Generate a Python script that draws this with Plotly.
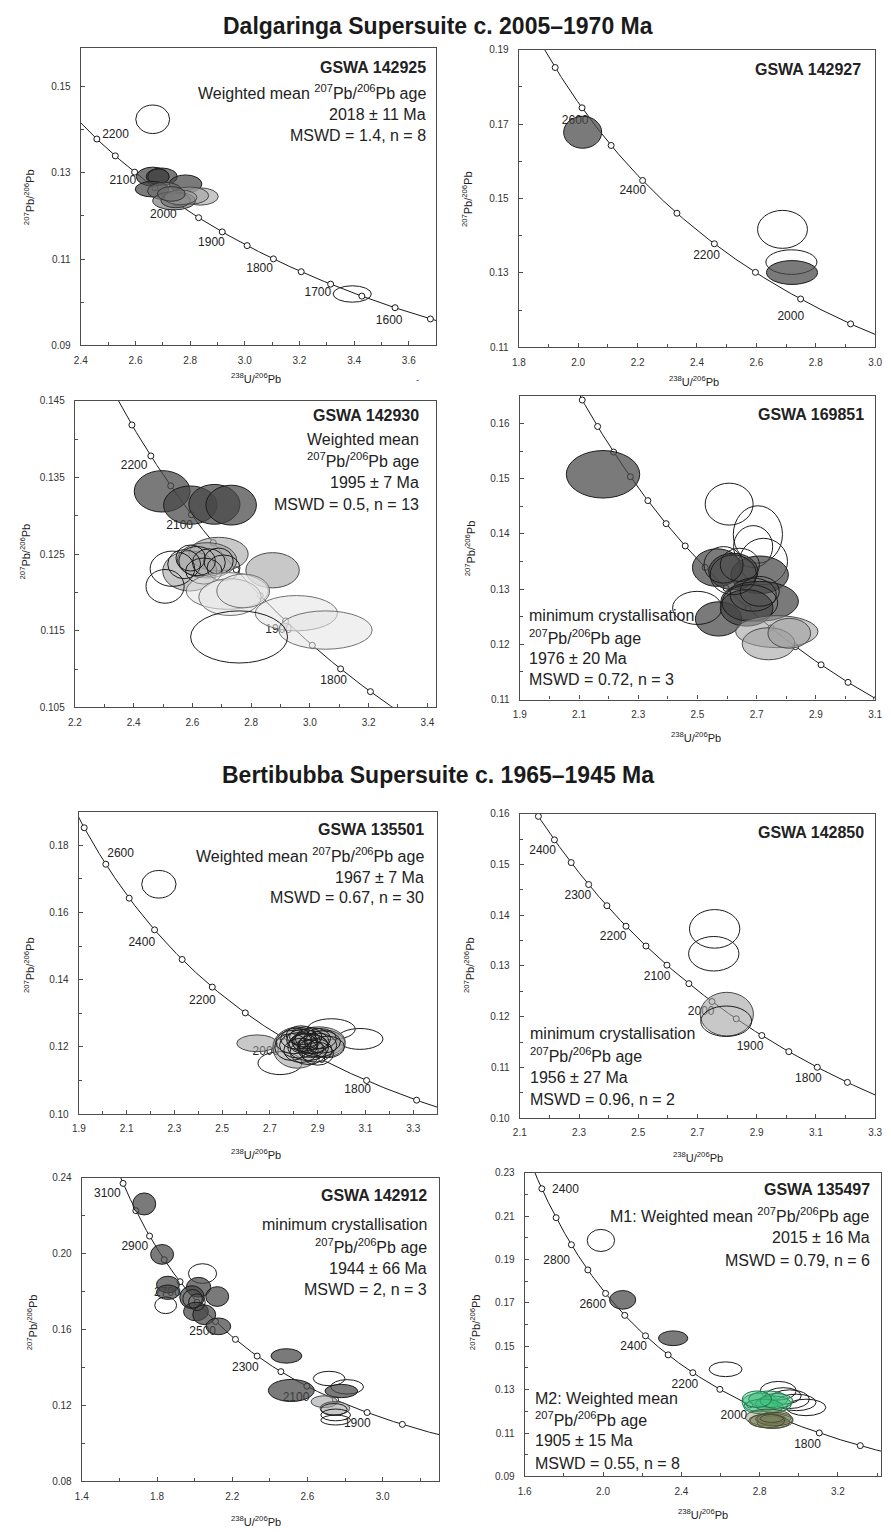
import numpy as np
import plotly.graph_objects as go

W, H = 891, 1532
FONT = "Liberation Sans, Arial, sans-serif"

# decay constants (per Ma) and present-day 238U/235U
L238 = 1.55125e-4
L235 = 9.8485e-4
U85 = 137.88


def tw_x(t):
    return 1.0 / (np.exp(L238 * np.asarray(t, float)) - 1.0)


def tw_y(t):
    t = np.asarray(t, float)
    return (np.exp(L235 * t) - 1.0) / (np.exp(L238 * t) - 1.0) / U85


# ---------------------------------------------------------------------------
# Analyses: (238U/206Pb, 207Pb/206Pb, half-width x, half-height y, group)
# ---------------------------------------------------------------------------
p1_spots = [
    (2.663, 0.1424, 0.062, 0.0033, "none"),
    (3.393, 0.1019, 0.070, 0.0019, "none"),
    (2.663, 0.1291, 0.060, 0.0022, "dark"),
    (2.696, 0.1291, 0.057, 0.0020, "dark"),
    (2.684, 0.1291, 0.039, 0.0018, "dark"),
    (2.783, 0.1274, 0.060, 0.0021, "dark"),
    (2.661, 0.1262, 0.062, 0.0018, "dark"),
    (2.707, 0.1258, 0.063, 0.0020, "mid"),
    (2.837, 0.1245, 0.066, 0.0020, "light"),
    (2.799, 0.1247, 0.069, 0.0020, "light"),
    (2.741, 0.1235, 0.078, 0.0021, "mid"),
    (2.747, 0.1236, 0.054, 0.0017, "mid"),
    (2.765, 0.1243, 0.060, 0.0017, "light"),
    (2.731, 0.1251, 0.051, 0.0017, "mid"),
]
p2_spots = [
    (2.015, 0.1678, 0.064, 0.0043, "dark"),
    (2.688, 0.1417, 0.084, 0.0051, "none"),
    (2.718, 0.1329, 0.086, 0.0033, "none"),
    (2.720, 0.1301, 0.086, 0.0032, "dark"),
]
p3_spots = [
    (2.497, 0.1332, 0.095, 0.0027, "dark"),
    (2.593, 0.1314, 0.091, 0.0025, "dark"),
    (2.675, 0.1315, 0.087, 0.0026, "dark"),
    (2.732, 0.1314, 0.086, 0.0026, "dark"),
    (2.689, 0.1250, 0.101, 0.0022, "light"),
    (2.873, 0.1229, 0.091, 0.0023, "light"),
    (2.591, 0.1228, 0.092, 0.0026, "light"),
    (2.650, 0.1242, 0.101, 0.0023, "light"),
    (2.532, 0.1231, 0.076, 0.0023, "none"),
    (2.507, 0.1208, 0.065, 0.0022, "none"),
    (2.572, 0.1237, 0.056, 0.0019, "none"),
    (2.616, 0.1241, 0.062, 0.0019, "none"),
    (2.656, 0.1239, 0.056, 0.0018, "none"),
    (2.689, 0.1241, 0.050, 0.0017, "none"),
    (2.639, 0.1228, 0.062, 0.0017, "none"),
    (2.706, 0.1232, 0.056, 0.0017, "none"),
    (2.594, 0.1245, 0.050, 0.0017, "none"),
    (2.719, 0.1202, 0.140, 0.0024, "pale"),
    (2.728, 0.1194, 0.106, 0.0024, "pale"),
    (2.773, 0.1202, 0.090, 0.0022, "pale"),
    (2.954, 0.1173, 0.140, 0.0023, "pale"),
    (3.053, 0.1151, 0.159, 0.0025, "pale"),
    (2.759, 0.1142, 0.165, 0.0034, "none"),
]
p4_spots = [
    (2.181, 0.1508, 0.124, 0.0043, "dark"),
    (2.607, 0.1454, 0.081, 0.0038, "none"),
    (2.704, 0.1399, 0.083, 0.0052, "none"),
    (2.688, 0.1377, 0.066, 0.0038, "none"),
    (2.723, 0.1350, 0.081, 0.0042, "none"),
    (2.566, 0.1339, 0.083, 0.0034, "dark"),
    (2.710, 0.1326, 0.097, 0.0034, "dark"),
    (2.621, 0.1332, 0.083, 0.0033, "dark"),
    (2.710, 0.1278, 0.131, 0.0036, "dark"),
    (2.571, 0.1246, 0.078, 0.0031, "dark"),
    (2.499, 0.1266, 0.083, 0.0030, "none"),
    (2.666, 0.1266, 0.089, 0.0033, "dark"),
    (2.621, 0.1326, 0.078, 0.0036, "none"),
    (2.643, 0.1344, 0.066, 0.0030, "none"),
    (2.688, 0.1290, 0.078, 0.0030, "none"),
    (2.677, 0.1275, 0.094, 0.0033, "none"),
    (2.588, 0.1344, 0.066, 0.0033, "none"),
    (2.710, 0.1296, 0.066, 0.0027, "none"),
    (2.768, 0.1223, 0.139, 0.0029, "light"),
    (2.740, 0.1201, 0.089, 0.0029, "light"),
    (2.810, 0.1220, 0.072, 0.0027, "light"),
]
p5_spots = [
    (2.235, 0.1684, 0.072, 0.0041, "none"),
    (2.646, 0.1211, 0.085, 0.0025, "light"),
    (2.742, 0.1152, 0.092, 0.0034, "none"),
    (2.957, 0.1253, 0.100, 0.0031, "none"),
    (3.077, 0.1224, 0.096, 0.0031, "none"),
    (2.815, 0.1198, 0.103, 0.0061, "light"),
    (2.905, 0.1216, 0.110, 0.0044, "light"),
    (2.930, 0.1210, 0.085, 0.0040, "light"),
    (2.800, 0.1215, 0.075, 0.0035, "none"),
    (2.820, 0.1205, 0.080, 0.0038, "none"),
    (2.840, 0.1220, 0.070, 0.0033, "none"),
    (2.860, 0.1200, 0.085, 0.0040, "none"),
    (2.830, 0.1190, 0.072, 0.0036, "none"),
    (2.870, 0.1215, 0.078, 0.0034, "none"),
    (2.880, 0.1225, 0.074, 0.0032, "none"),
    (2.850, 0.1230, 0.068, 0.0030, "none"),
    (2.900, 0.1205, 0.080, 0.0036, "none"),
    (2.890, 0.1190, 0.070, 0.0035, "none"),
    (2.810, 0.1225, 0.065, 0.0031, "none"),
    (2.920, 0.1215, 0.075, 0.0033, "none"),
    (2.860, 0.1185, 0.076, 0.0037, "none"),
    (2.840, 0.1210, 0.060, 0.0029, "none"),
    (2.880, 0.1208, 0.062, 0.0028, "none"),
    (2.910, 0.1225, 0.068, 0.0030, "none"),
    (2.790, 0.1200, 0.070, 0.0040, "none"),
    (2.940, 0.1200, 0.072, 0.0032, "none"),
    (2.870, 0.1195, 0.055, 0.0026, "none"),
    (2.850, 0.1218, 0.050, 0.0024, "none"),
    (2.830, 0.1235, 0.062, 0.0028, "none"),
    (2.900, 0.1180, 0.066, 0.0034, "none"),
]
p6_spots = [
    (2.758, 0.1373, 0.085, 0.0038, "none"),
    (2.755, 0.1324, 0.085, 0.0034, "none"),
    (2.799, 0.1205, 0.090, 0.0043, "light"),
    (2.797, 0.1191, 0.086, 0.0030, "none"),
]
p7_spots = [
    (1.732, 0.2262, 0.061, 0.0058, "dark"),
    (1.827, 0.1996, 0.061, 0.0052, "dark"),
    (1.858, 0.1837, 0.061, 0.0044, "dark"),
    (1.858, 0.1797, 0.061, 0.0038, "dark"),
    (1.846, 0.1728, 0.058, 0.0044, "none"),
    (2.042, 0.1895, 0.075, 0.0052, "none"),
    (2.021, 0.1823, 0.065, 0.0052, "dark"),
    (1.986, 0.1770, 0.065, 0.0061, "dark"),
    (2.120, 0.1774, 0.061, 0.0052, "dark"),
    (2.007, 0.1695, 0.066, 0.0049, "dark"),
    (2.051, 0.1678, 0.061, 0.0052, "dark"),
    (2.126, 0.1617, 0.066, 0.0044, "dark"),
    (1.989, 0.1762, 0.052, 0.0049, "none"),
    (2.012, 0.1744, 0.044, 0.0044, "none"),
    (2.488, 0.1461, 0.082, 0.0038, "dark"),
    (2.514, 0.1279, 0.122, 0.0058, "dark"),
    (2.715, 0.1342, 0.084, 0.0038, "none"),
    (2.811, 0.1298, 0.087, 0.0038, "none"),
    (2.780, 0.1276, 0.087, 0.0035, "dark"),
    (2.689, 0.1220, 0.070, 0.0031, "light"),
    (2.746, 0.1185, 0.079, 0.0035, "light"),
    (2.741, 0.1179, 0.070, 0.0031, "none"),
    (2.750, 0.1150, 0.079, 0.0031, "none"),
    (2.750, 0.1123, 0.079, 0.0026, "none"),
]
p8_spots = [
    (1.989, 0.1988, 0.070, 0.0051, "none"),
    (2.100, 0.1714, 0.067, 0.0043, "dark"),
    (2.358, 0.1537, 0.075, 0.0034, "dark"),
    (2.626, 0.1394, 0.084, 0.0034, "none"),
    (2.895, 0.1295, 0.092, 0.0043, "none"),
    (2.920, 0.1271, 0.092, 0.0038, "none"),
    (2.953, 0.1256, 0.101, 0.0043, "none"),
    (2.987, 0.1241, 0.101, 0.0038, "none"),
    (3.037, 0.1218, 0.101, 0.0038, "none"),
    (2.802, 0.1241, 0.092, 0.0043, "green"),
    (2.844, 0.1256, 0.101, 0.0038, "green"),
    (2.870, 0.1233, 0.092, 0.0038, "green"),
    (2.819, 0.1222, 0.101, 0.0034, "green"),
    (2.886, 0.1248, 0.084, 0.0034, "green"),
    (2.786, 0.1256, 0.075, 0.0038, "green"),
    (2.844, 0.1172, 0.117, 0.0038, "olive"),
    (2.861, 0.1156, 0.109, 0.0034, "olive"),
    (2.870, 0.1149, 0.084, 0.0028, "olive"),
    (2.853, 0.1164, 0.075, 0.0023, "olive"),
    (2.878, 0.1164, 0.092, 0.0031, "olive"),
    (2.836, 0.1156, 0.092, 0.0031, "olive"),
    (2.861, 0.1167, 0.059, 0.0018, "olive"),
]

# concordia age marks (Ma) and the labelled ages with their printed text
p1_marks = list(range(1500, 2301, 50))
p1_labels = [(2200, "2200"), (2100, "2100"), (2000, "2000"), (1900, "1900"),
             (1800, "1800"), (1700, "1700"), (1600, "1600")]
p2_marks = list(range(1800, 2901, 100))
p2_labels = [(2600, "2600"), (2400, "2400"), (2200, "2200"), (2000, "2000")]
p3_marks = list(range(1700, 2301, 50))
p3_labels = [(2200, "2200"), (2100, "2100"), (1900, "1900"), (1800, "1800")]
p4_marks = list(range(1800, 2551, 50))
p4_labels = []
p5_marks = list(range(1600, 2801, 100))
p5_labels = [(2600, "2600"), (2400, "2400"), (2200, "2200"), (2000, "2000"),
             (1800, "1800")]
p6_marks = list(range(1650, 2501, 50))
p6_labels = [(2400, "2400"), (2300, "2300"), (2200, "2200"), (2100, "2100"),
             (2000, "2000"), (1900, "1900"), (1800, "1800")]
p7_marks = list(range(1700, 3301, 100))
p7_labels = [(3100, "3100"), (2900, "2900"), (2700, "2700"), (2500, "2500"),
             (2300, "2300"), (2100, "2100"), (1900, "1900")]
p8_marks = list(range(1600, 3101, 100))
p8_labels = [(3000, "2400"), (2800, "2800"), (2600, "2600"), (2400, "2400"),
             (2200, "2200"), (2000, "2000"), (1800, "1800")]

# sample names and age statements
p1_text = ["GSWA 142925", "Weighted mean <sup>207</sup>Pb/<sup>206</sup>Pb age",
           "2018 ± 11 Ma", "MSWD = 1.4, n = 8"]
p2_text = ["GSWA 142927"]
p3_text = ["GSWA 142930", "Weighted mean", "<sup>207</sup>Pb/<sup>206</sup>Pb age",
           "1995 ± 7 Ma", "MSWD = 0.5, n = 13"]
p4_text = ["GSWA 169851"]
p4_text_low = ["minimum crystallisation", "<sup>207</sup>Pb/<sup>206</sup>Pb age",
               "1976 ± 20 Ma", "MSWD = 0.72, n = 3"]
p5_text = ["GSWA 135501", "Weighted mean <sup>207</sup>Pb/<sup>206</sup>Pb age",
           "1967 ± 7 Ma", "MSWD = 0.67, n = 30"]
p6_text = ["GSWA 142850"]
p6_text_low = ["minimum crystallisation", "<sup>207</sup>Pb/<sup>206</sup>Pb age",
               "1956 ± 27 Ma", "MSWD = 0.96, n = 2"]
p7_text = ["GSWA 142912", "minimum crystallisation",
           "<sup>207</sup>Pb/<sup>206</sup>Pb age", "1944 ± 66 Ma", "MSWD = 2, n = 3"]
p8_text = ["GSWA 135497", "M1: Weighted mean <sup>207</sup>Pb/<sup>206</sup>Pb age",
           "2015 ± 16 Ma", "MSWD = 0.79, n = 6"]
p8_text_low = ["M2: Weighted mean", "<sup>207</sup>Pb/<sup>206</sup>Pb age",
               "1905 ± 15 Ma", "MSWD = 0.55, n = 8"]

suite_titles = ["Dalgaringa Supersuite c. 2005–1970 Ma",
                "Bertibubba Supersuite c. 1965–1945 Ma"]

# ---------------------------------------------------------------------------
# styling
# ---------------------------------------------------------------------------
FILL = {
    "none": "rgba(255,255,255,0)",
    "dark": "rgba(70,70,70,0.72)",
    "mid": "rgba(110,110,110,0.62)",
    "light": "rgba(160,160,160,0.58)",
    "pale": "rgba(228,228,228,0.55)",
    "green": "rgba(60,190,125,0.42)",
    "olive": "rgba(120,125,90,0.38)",
}
EDGE = {
    "none": "#1c1c1c", "dark": "#1c1c1c", "mid": "#333333", "light": "#4a4a4a",
    "pale": "#707070", "green": "#23744b", "olive": "#4a4c36",
}

# each panel: frame in pixels (left, right, top, bottom), axis setup, label
# offsets in pixels (dx right, dy down), text blocks
panels = [
    dict(spots=p1_spots, marks=p1_marks, labels=p1_labels,
         box=(75, 436, 42, 342), xr=(2.4, 3.7), yr=(0.09, 0.159),
         xt=(2.4, 0.2, 0.1), yt=(0.09, 0.02, 0.01), yfmt=".2f",
         off={2200: (19, -4), 2100: (-12, 9), 2000: (-13, 12), 1900: (-11, 11),
              1800: (-14, 10), 1700: (-13, 9), 1600: (-6, 13)},
         top=(p1_text, 428, [62, 87, 109, 131]), low=None,
         xtitle=(253, 375), ytitle=(23, 193)),
    dict(spots=p2_spots, marks=p2_marks, labels=p2_labels,
         box=(520, 882, 44, 344), xr=(1.8, 3.0), yr=(0.11, 0.19),
         xt=(1.8, 0.2, 0.1), yt=(0.11, 0.02, 0.01), yfmt=".2f",
         off={2600: (-7, 13), 2400: (-10, 11), 2200: (-8, 12), 2000: (-10, 18)},
         top=(p2_text, 870, [64]), low=None,
         xtitle=(698, 378), ytitle=(468, 195)),
    dict(spots=p3_spots, marks=p3_marks, labels=p3_labels,
         box=(69, 436, 398, 707), xr=(2.2, 3.43), yr=(0.105, 0.145),
         xt=(2.2, 0.2, 0.1), yt=(0.105, 0.01, 0.005), yfmt=".3f",
         off={2200: (-17, 10), 2100: (-12, 11), 1900: (-7, 9), 1800: (-7, 12)},
         top=(p3_text, 421, [413, 437, 458, 480, 502]), low=None,
         xtitle=None, ytitle=(18, 550)),
    dict(spots=p4_spots, marks=p4_marks, labels=p4_labels,
         box=(521, 882, 393, 699), xr=(1.9, 3.1), yr=(0.11, 0.165),
         xt=(1.9, 0.2, 0.1), yt=(0.11, 0.01, 0.005), yfmt=".2f",
         off={},
         top=(p4_text, 873, [412]), low=(p4_text_low, 528, [614, 636, 658, 679]),
         xtitle=(700, 737), ytitle=(470, 547)),
    dict(spots=p5_spots, marks=p5_marks, labels=p5_labels,
         box=(73, 437, 812, 1117), xr=(1.9, 3.4), yr=(0.10, 0.19),
         xt=(1.9, 0.2, 0.1), yt=(0.10, 0.02, 0.01), yfmt=".2f",
         off={2600: (15, -10), 2400: (-13, 13), 2200: (-10, 14), 2000: (-16, 15),
              1800: (-9, 10)},
         top=(p5_text, 426, [830, 856, 878, 899]), low=None,
         xtitle=(253, 1157), ytitle=(23, 967)),
    dict(spots=p6_spots, marks=p6_marks, labels=p6_labels,
         box=(521, 882, 814, 1121), xr=(2.1, 3.3), yr=(0.10, 0.16),
         xt=(2.1, 0.2, 0.1), yt=(0.10, 0.01, 0.005), yfmt=".2f",
         off={2400: (-12, 11), 2300: (-11, 12), 2200: (-13, 11), 2100: (-10, 12),
              2000: (-11, 11), 1900: (-12, 12), 1800: (-9, 12)},
         top=(p6_text, 873, [833]), low=(p6_text_low, 529, [1036, 1057, 1080, 1102]),
         xtitle=(702, 1160), ytitle=(470, 967)),
    dict(spots=p7_spots, marks=p7_marks, labels=p7_labels,
         box=(76, 439, 1181, 1487), xr=(1.4, 3.3), yr=(0.08, 0.24),
         xt=(1.4, 0.4, 0.2), yt=(0.08, 0.04, 0.02), yfmt=".2f",
         off={3100: (-16, 11), 2900: (-15, 11), 2700: (-13, 11), 2500: (-13, 11),
              2300: (-12, 12), 2100: (-11, 12), 1900: (-10, 12)},
         top=(p7_text, 429, [1199, 1228, 1250, 1272, 1294]), low=None,
         xtitle=(253, 1527), ytitle=(25, 1327)),
    dict(spots=p8_spots, marks=p8_marks, labels=p8_labels,
         box=(526, 888, 1176, 1482), xr=(1.6, 3.42), yr=(0.09, 0.23),
         xt=(1.6, 0.4, 0.2), yt=(0.09, 0.02, 0.01), yfmt=".2f",
         off={3000: (24, 1), 2800: (-15, 16), 2600: (-13, 12), 2400: (-12, 11),
              2200: (-8, 12), 2000: (-16, 11), 1800: (-12, 12)},
         top=(p8_text, 879, [1193, 1219, 1241, 1264]),
         low=(p8_text_low, 534, [1403, 1424, 1446, 1469]),
         xtitle=(707, 1520), ytitle=(475, 1327)),
]

fig = go.Figure()
shapes, annotations = [], []
layout_axes = {}
curve_ages = np.arange(1000.0, 3800.0, 2.0)

for i, p in enumerate(panels, start=1):
    xa = "x" if i == 1 else f"x{i}"
    ya = "y" if i == 1 else f"y{i}"
    L, R, T, B = p["box"]
    x0r, x1r = p["xr"]
    y0r, y1r = p["yr"]
    sx = (x1r - x0r) / (R - L)
    sy = (y1r - y0r) / (B - T)

    common = dict(showline=True, mirror=True, linecolor="#4d4d4d", linewidth=1.4,
                  showgrid=False, zeroline=False, ticks="inside", ticklen=4,
                  tickcolor="#4d4d4d", tickwidth=1,
                  tickfont=dict(family=FONT, size=10, color="#333333"))
    layout_axes["xaxis" if i == 1 else f"xaxis{i}"] = dict(
        common, domain=[L / W, R / W], range=[x0r, x1r], anchor=ya,
        tick0=p["xt"][0], dtick=p["xt"][1], tickformat=".1f",
        ticklabelstandoff=5,
        minor=dict(tick0=p["xt"][0], dtick=p["xt"][2], ticks="inside",
                   ticklen=3, tickcolor="#4d4d4d"))
    layout_axes["yaxis" if i == 1 else f"yaxis{i}"] = dict(
        common, domain=[1 - B / H, 1 - T / H], range=[y0r, y1r], anchor=xa,
        tick0=p["yt"][0], dtick=p["yt"][1], tickformat=p["yfmt"],
        ticklabelstandoff=7,
        minor=dict(tick0=p["yt"][0], dtick=p["yt"][2], ticks="inside",
                   ticklen=3, tickcolor="#4d4d4d"))

    # concordia curve
    fig.add_trace(go.Scatter(x=tw_x(curve_ages), y=tw_y(curve_ages), mode="lines",
                             line=dict(color="#1a1a1a", width=1),
                             xaxis=xa, yaxis=ya, hoverinfo="skip"))
    # age marks
    m = np.array(p["marks"], float)
    fig.add_trace(go.Scatter(x=tw_x(m), y=tw_y(m), mode="markers",
                             marker=dict(symbol="circle", size=6, color="white",
                                         line=dict(color="#1a1a1a", width=1)),
                             xaxis=xa, yaxis=ya, hoverinfo="skip"))
    # age labels
    if p["labels"]:
        ages = np.array([a for a, _ in p["labels"]], float)
        dxs = np.array([p["off"][a][0] for a, _ in p["labels"]], float)
        dys = np.array([p["off"][a][1] for a, _ in p["labels"]], float)
        fig.add_trace(go.Scatter(
            x=tw_x(ages) + dxs * sx, y=tw_y(ages) - dys * sy, mode="text",
            text=[t for _, t in p["labels"]], textposition="middle center",
            textfont=dict(family=FONT, size=12, color="#222222"),
            xaxis=xa, yaxis=ya, hoverinfo="skip", cliponaxis=False))

    # error ellipses
    for (cx, cy, rx, ry, g) in p["spots"]:
        shapes.append(dict(type="circle", xref=xa, yref=ya,
                           x0=cx - rx, x1=cx + rx, y0=cy - ry, y1=cy + ry,
                           fillcolor=FILL[g], line=dict(color=EDGE[g], width=1),
                           layer="above"))

    # sample name and age statement (right aligned, top)
    lines, xr_px, ys = p["top"]
    for k, (txt, ypx) in enumerate(zip(lines, ys)):
        annotations.append(dict(
            x=xr_px / W, y=1 - ypx / H, xref="paper", yref="paper",
            xanchor="right", yanchor="middle", showarrow=False,
            text=f"<b>{txt}</b>" if k == 0 else txt,
            font=dict(family=FONT, size=16, color="#222222")))
    if p["low"]:
        lines, xl_px, ys = p["low"]
        for txt, ypx in zip(lines, ys):
            annotations.append(dict(
                x=xl_px / W, y=1 - ypx / H, xref="paper", yref="paper",
                xanchor="left", yanchor="middle", showarrow=False, text=txt,
                font=dict(family=FONT, size=16, color="#222222")))

    # axis titles
    if p["xtitle"]:
        tx, ty = p["xtitle"]
        annotations.append(dict(
            x=tx / W, y=1 - ty / H, xref="paper", yref="paper",
            xanchor="center", yanchor="middle", showarrow=False,
            text="<sup>238</sup>U/<sup>206</sup>Pb",
            font=dict(family=FONT, size=11, color="#222222")))
    tx, ty = p["ytitle"]
    annotations.append(dict(
        x=tx / W, y=1 - ty / H, xref="paper", yref="paper",
        xanchor="center", yanchor="middle", showarrow=False, textangle=-90,
        text="<sup>207</sup>Pb/<sup>206</sup>Pb",
        font=dict(family=FONT, size=11, color="#222222")))

# suite headings
for txt, ypx in zip(suite_titles, [20, 775]):
    annotations.append(dict(
        x=437.5 / W, y=1 - ypx / H, xref="paper", yref="paper",
        xanchor="center", yanchor="middle", showarrow=False,
        text=f"<b>{txt}</b>", font=dict(family=FONT, size=23, color="#1a1a1a")))

# small stray dash beside the first x-axis title
annotations.append(dict(x=417 / W, y=1 - 377 / H, xref="paper", yref="paper",
                        xanchor="center", yanchor="middle", showarrow=False,
                        text="-", font=dict(family=FONT, size=9, color="#283593")))

fig.update_layout(
    width=W, height=H, margin=dict(l=0, r=0, t=0, b=0),
    paper_bgcolor="white", plot_bgcolor="white", showlegend=False,
    shapes=shapes, annotations=annotations, **layout_axes)

fig.write_html("out.html")
